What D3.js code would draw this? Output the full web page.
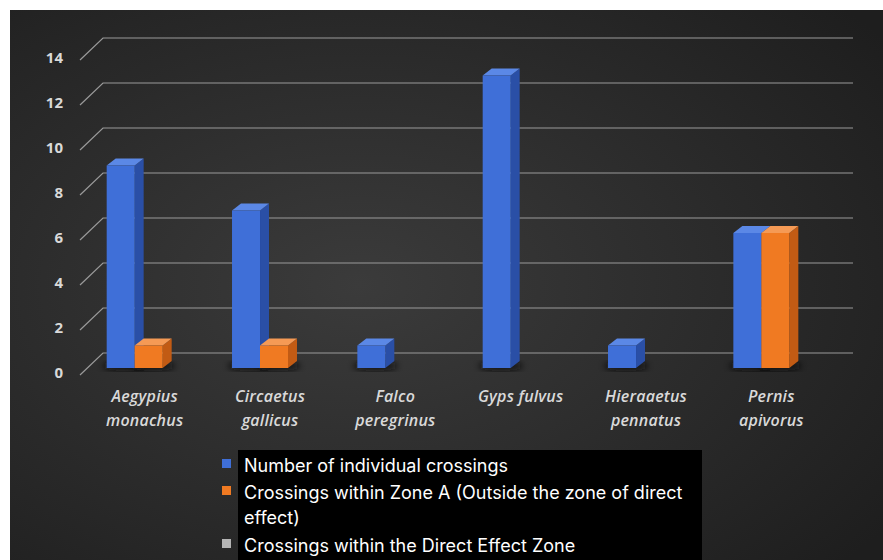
<!DOCTYPE html>
<html lang="en">
  <head>
    <meta charset="UTF-8" />
    <script src="https://cdn.jsdelivr.net/npm/d3@7"></script>
    <style>
      * {
        margin: 0;
        padding: 0;
      }
      body {
        background: #fff;
      }
      #container svg {
        display: block;
      }
    </style>
    <title>Crossings</title>
  </head>
  <body>
    <div id="container"></div>
  </body>
  <script>
    const species = [
      ['Aegypius', 'monachus'],
      ['Circaetus', 'gallicus'],
      ['Falco', 'peregrinus'],
      ['Gyps fulvus'],
      ['Hieraaetus', 'pennatus'],
      ['Pernis', 'apivorus'],
    ];
    const seriesNames = [
      'Number of individual crossings',
      'Crossings within Zone A (Outside the zone of direct effect)',
      'Crossings within the Direct Effect Zone',
    ];
    const individualCrossings = [9, 7, 1, 13, 1, 6];
    const zoneACrossings = [1, 1, 0, 0, 0, 6];
    const directEffectCrossings = [0, 0, 0, 0, 0, 0];
    const yTicks = [0, 2, 4, 6, 8, 10, 12, 14];

    const width = 883;
    const height = 560;
    const depthX = 9;
    const depthY = -7;

    const seriesValues = [individualCrossings, zoneACrossings, directEffectCrossings];
    const faceColors = [
      { front: '#3f6fd8', side: '#2a4fa6', top: '#5b88e6' },
      { front: '#f07a22', side: '#c25b14', top: '#f59a55' },
      { front: '#b4b4b4', side: '#7d7d7d', top: '#c8c8c8' },
    ];

    const svg = d3
      .select('#container')
      .append('svg')
      .attr('width', width)
      .attr('height', height);

    const defs = svg.append('defs');
    const bg = defs
      .append('radialGradient')
      .attr('id', 'bg')
      .attr('cx', '0.4')
      .attr('cy', '0.5')
      .attr('r', '0.75');
    bg.append('stop').attr('offset', '0%').attr('stop-color', '#3b3b3b');
    bg.append('stop').attr('offset', '100%').attr('stop-color', '#1e1e1e');

    const blur = defs.append('filter').attr('id', 'shadow').attr('x', '-50%').attr('width', '200%');
    blur.append('feGaussianBlur').attr('stdDeviation', 3);

    // chart background
    svg
      .append('rect')
      .attr('x', 10)
      .attr('y', 10)
      .attr('width', width - 10)
      .attr('height', height - 10)
      .attr('fill', 'url(#bg)');

    const y = d3.scaleLinear().domain([0, 14]).range([368, 53]);
    const x = d3
      .scaleBand()
      .domain(d3.range(species.length))
      .range([86, 838])
      .paddingInner(0.33)
      .paddingOuter(0.165);
    const xs = d3
      .scaleBand()
      .domain(d3.range(seriesValues.length))
      .range([0, x.bandwidth()]);

    // gridlines (back wall + diagonal)
    const grid = svg.append('g').attr('stroke', '#9a9a9a').attr('stroke-width', 1.2).attr('fill', 'none');
    grid
      .selectAll('path')
      .data(yTicks)
      .join('path')
      .attr('d', (d) => `M80,${y(d) + 7} L103,${y(d) - 15} L853,${y(d) - 15}`);

    // y labels
    svg
      .append('g')
      .selectAll('text')
      .data(yTicks)
      .join('text')
      .attr('x', 63)
      .attr('y', (d) => y(d) + 5)
      .attr('dy', '0.35em')
      .attr('text-anchor', 'end')
      .attr('font-family', 'Open Sans, sans-serif')
      .attr('font-weight', 700)
      .attr('font-size', 15)
      .attr('fill', '#d9d9d9')
      .text((d) => d);

    // bars
    const bars = [];
    seriesValues.forEach((vals, s) => {
      vals.forEach((v, i) => {
        if (v > 0) bars.push({ s, i, v });
      });
    });

    // floor shadows
    svg
      .append('g')
      .selectAll('ellipse')
      .data(bars)
      .join('ellipse')
      .attr('cx', (d) => x(d.i) + xs(d.s) + xs.bandwidth() / 2 + 4)
      .attr('cy', y(0) - 2)
      .attr('rx', xs.bandwidth() / 2 + 8)
      .attr('ry', 5)
      .attr('fill', '#111')
      .attr('opacity', 0.8)
      .attr('filter', 'url(#shadow)');

    const barG = svg
      .append('g')
      .selectAll('g')
      .data(bars)
      .join('g')
      .attr('transform', (d) => `translate(${x(d.i) + xs(d.s)},0)`);

    const bw = xs.bandwidth();
    barG
      .append('path')
      .attr('fill', (d) => faceColors[d.s].side)
      .attr('d', (d) => `M${bw},${y(d.v)} L${bw + depthX},${y(d.v) + depthY} L${bw + depthX},${y(0) + depthY} L${bw},${y(0)} Z`);
    barG
      .append('path')
      .attr('fill', (d) => faceColors[d.s].top)
      .attr('d', (d) => `M0,${y(d.v)} L${depthX},${y(d.v) + depthY} L${bw + depthX},${y(d.v) + depthY} L${bw},${y(d.v)} Z`);
    barG
      .append('rect')
      .attr('x', 0)
      .attr('y', (d) => y(d.v))
      .attr('width', bw)
      .attr('height', (d) => y(0) - y(d.v))
      .attr('fill', (d) => faceColors[d.s].front);

    // category labels
    svg
      .append('g')
      .selectAll('text')
      .data(species)
      .join('text')
      .attr('x', (d, i) => x(i) + x.bandwidth() / 2 - 4)
      .attr('y', 402)
      .attr('text-anchor', 'middle')
      .attr('font-family', 'Open Sans, sans-serif')
      .attr('font-style', 'italic')
      .attr('font-weight', 600)
      .attr('font-size', 16)
      .attr('letter-spacing', 0.2)
      .attr('fill', '#d9d9d9')
      .selectAll('tspan')
      .data((d) => d)
      .join('tspan')
      .attr('x', function () {
        return this.parentNode.getAttribute('x');
      })
      .attr('dy', (d, i) => (i === 0 ? 0 : 24))
      .text((d) => d);

    // legend
    svg
      .append('rect')
      .attr('x', 238)
      .attr('y', 450)
      .attr('width', 464)
      .attr('height', 110)
      .attr('fill', '#000');

    const legendRows = [
      { s: 0, lines: [seriesNames[0]], y: 466 },
      { s: 1, lines: ['Crossings within Zone A (Outside the zone of direct', 'effect)'], y: 493 },
      { s: 2, lines: [seriesNames[2]], y: 546 },
    ];
    const legend = svg.append('g');
    legend
      .selectAll('rect')
      .data(legendRows)
      .join('rect')
      .attr('x', 222)
      .attr('y', (d) => d.y - 7)
      .attr('width', 9)
      .attr('height', 9)
      .attr('fill', (d) => faceColors[d.s].front);
    legend
      .selectAll('text')
      .data(legendRows)
      .join('text')
      .attr('x', 244)
      .attr('y', (d) => d.y)
      .attr('font-family', 'Inter, sans-serif')
      .attr('font-size', 18)
      .attr('fill', '#fff')
      .selectAll('tspan')
      .data((d) => d.lines)
      .join('tspan')
      .attr('x', 244)
      .attr('dy', (d, i) => (i === 0 ? '0.35em' : 25))
      .text((d) => d);
  </script>
</html>
